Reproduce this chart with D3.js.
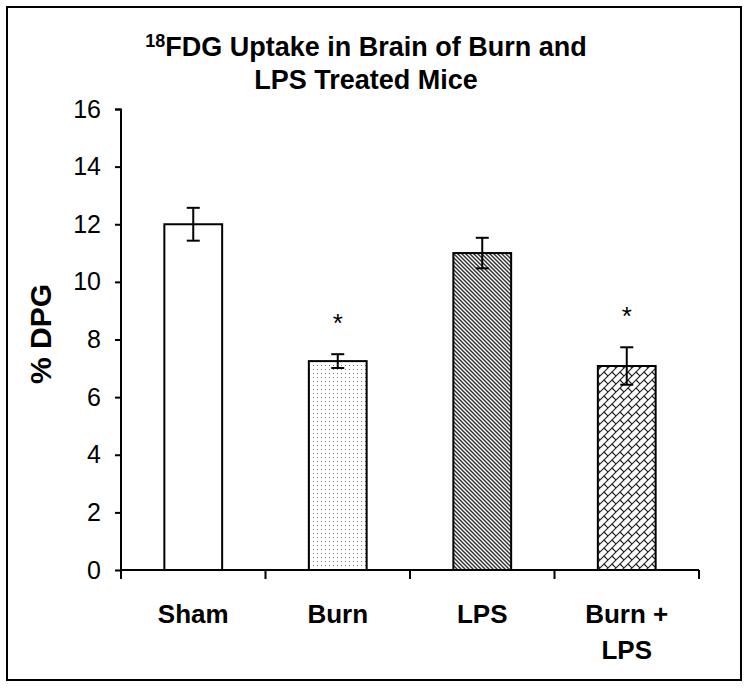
<!DOCTYPE html>
<html>
<head>
<meta charset="utf-8">
<script src="https://cdn.jsdelivr.net/npm/d3@7/dist/d3.min.js"></script>
<style>
html,body{margin:0;padding:0;background:#fff;}
svg{display:block;font-family:Arial,"Liberation Sans",sans-serif;}
</style>
</head>
<body>
<svg id="chart" width="750" height="690"></svg>
<script>
const categories = ["Sham", "Burn", "LPS", "Burn + LPS"];
const categoryLines = [["Sham"], ["Burn"], ["LPS"], ["Burn +", "LPS"]];
const means = [12.0, 7.25, 11.0, 7.08];
const errors = [0.57, 0.24, 0.53, 0.65];
const significant = [false, true, false, true];
const fills = ["none", "dots", "diag", "brick"];
const yTicks = [0, 2, 4, 6, 8, 10, 12, 14, 16];

const svg = d3.select("#chart");
const defs = svg.append("defs");

// patterns
const pDots = defs.append("pattern").attr("id", "dots").attr("patternUnits", "userSpaceOnUse")
  .attr("width", 4).attr("height", 4);
pDots.append("rect").attr("width", 4).attr("height", 4).attr("fill", "#fff");
pDots.append("rect").attr("x", 1).attr("y", 1).attr("width", 1).attr("height", 1).attr("fill", "#777");

const pDiag = defs.append("pattern").attr("id", "diag").attr("patternUnits", "userSpaceOnUse")
  .attr("width", 4).attr("height", 4);
pDiag.append("rect").attr("width", 4).attr("height", 4).attr("fill", "#fff");
pDiag.append("path").attr("d", "M-1,-1 L5,5 M-1,3 L1,5 M3,-1 L5,1")
  .attr("stroke", "#333").attr("stroke-width", 1.5);

const pBrick = defs.append("pattern").attr("id", "brick").attr("patternUnits", "userSpaceOnUse")
  .attr("width", 8).attr("height", 8);
pBrick.append("rect").attr("width", 8).attr("height", 8).attr("fill", "#fff");
pBrick.append("path").attr("d", "M-1,9 L9,-1 M-1,1 L1,-1 M7,9 L9,7 M4,4 L8,8")
  .attr("stroke", "#222").attr("stroke-width", 1.2);

// outer frame
svg.append("rect").attr("x", 7).attr("y", 7).attr("width", 734).attr("height", 673)
  .attr("fill", "none").attr("stroke", "#000").attr("stroke-width", 2);

const x = d3.scaleBand().domain(categories).range([121, 699]).padding(0);
const y = d3.scaleLinear().domain([0, 16]).range([570, 109]);
const barW = x.bandwidth() * 0.4;

// bars
const g = svg.append("g");
g.selectAll("rect.bar").data(categories).enter().append("rect")
  .attr("class", "bar")
  .attr("x", d => x(d) + x.bandwidth() / 2 - barW / 2)
  .attr("y", (d, i) => y(means[i]))
  .attr("width", barW)
  .attr("height", (d, i) => y(0) - y(means[i]))
  .attr("fill", (d, i) => fills[i] === "none" ? "#fff" : `url(#${fills[i]})`)
  .attr("stroke", "#000").attr("stroke-width", 2);

// error bars
const capW = 13;
categories.forEach((c, i) => {
  const cx = x(c) + x.bandwidth() / 2;
  const top = y(means[i] + errors[i]);
  const bot = y(means[i] - errors[i]);
  g.append("line").attr("x1", cx).attr("x2", cx).attr("y1", top).attr("y2", bot)
    .attr("stroke", "#000").attr("stroke-width", 2);
  g.append("line").attr("x1", cx - capW / 2).attr("x2", cx + capW / 2).attr("y1", top).attr("y2", top)
    .attr("stroke", "#000").attr("stroke-width", 2);
  g.append("line").attr("x1", cx - capW / 2).attr("x2", cx + capW / 2).attr("y1", bot).attr("y2", bot)
    .attr("stroke", "#000").attr("stroke-width", 2);
  if (significant[i]) {
    g.append("text").attr("x", cx).attr("y", top - 22)
      .attr("text-anchor", "middle").attr("font-size", 26).attr("fill", "#000").text("*");
  }
});

// y axis
const yAxis = d3.axisLeft(y).tickValues(yTicks).tickSize(6).tickPadding(14);
const ya = svg.append("g").attr("transform", "translate(121,0)").call(yAxis);
ya.select(".domain").attr("stroke", "#000").attr("stroke-width", 2).attr("d", "M-6,109.5H0V570");
ya.selectAll(".tick line").attr("stroke", "#000").attr("stroke-width", 2);
ya.selectAll(".tick text").attr("font-size", 25).attr("fill", "#000")
  .attr("font-family", "Arial, 'Liberation Sans', sans-serif");

// x axis
const xa = svg.append("g").attr("transform", "translate(0,570)");
xa.append("line").attr("x1", 121).attr("x2", 699).attr("y1", 0).attr("y2", 0)
  .attr("stroke", "#000").attr("stroke-width", 2);
const bounds = categories.map(c => x(c)).concat([x.range()[1]]);
xa.selectAll("line.tick").data(bounds).enter().append("line").attr("class", "tick")
  .attr("x1", d => d).attr("x2", d => d).attr("y1", 0).attr("y2", 9)
  .attr("stroke", "#000").attr("stroke-width", 2);

// category labels
categories.forEach((c, i) => {
  const t = svg.append("text").attr("x", x(c) + x.bandwidth() / 2).attr("y", 623)
    .attr("text-anchor", "middle").attr("font-size", 26).attr("font-weight", "bold").attr("fill", "#000");
  categoryLines[i].forEach((l, j) => {
    t.append("tspan").attr("x", x(c) + x.bandwidth() / 2).attr("dy", j === 0 ? 0 : 36).text(l);
  });
});

// y label
svg.append("text").attr("transform", "translate(51,334) rotate(-90)")
  .attr("text-anchor", "middle").attr("font-size", 30).attr("font-weight", "bold").attr("fill", "#000")
  .text("% DPG");

// title
const title = svg.append("text").attr("x", 366).attr("y", 56).attr("text-anchor", "middle")
  .attr("font-size", 27).attr("font-weight", "bold").attr("fill", "#000");
title.append("tspan").attr("font-size", 18).attr("dy", -9).text("18");
title.append("tspan").attr("dy", 9).text("FDG Uptake in Brain of Burn and");
svg.append("text").attr("x", 366).attr("y", 89).attr("text-anchor", "middle")
  .attr("font-size", 27).attr("font-weight", "bold").attr("fill", "#000")
  .text("LPS Treated Mice");
</script>
</body>
</html>
